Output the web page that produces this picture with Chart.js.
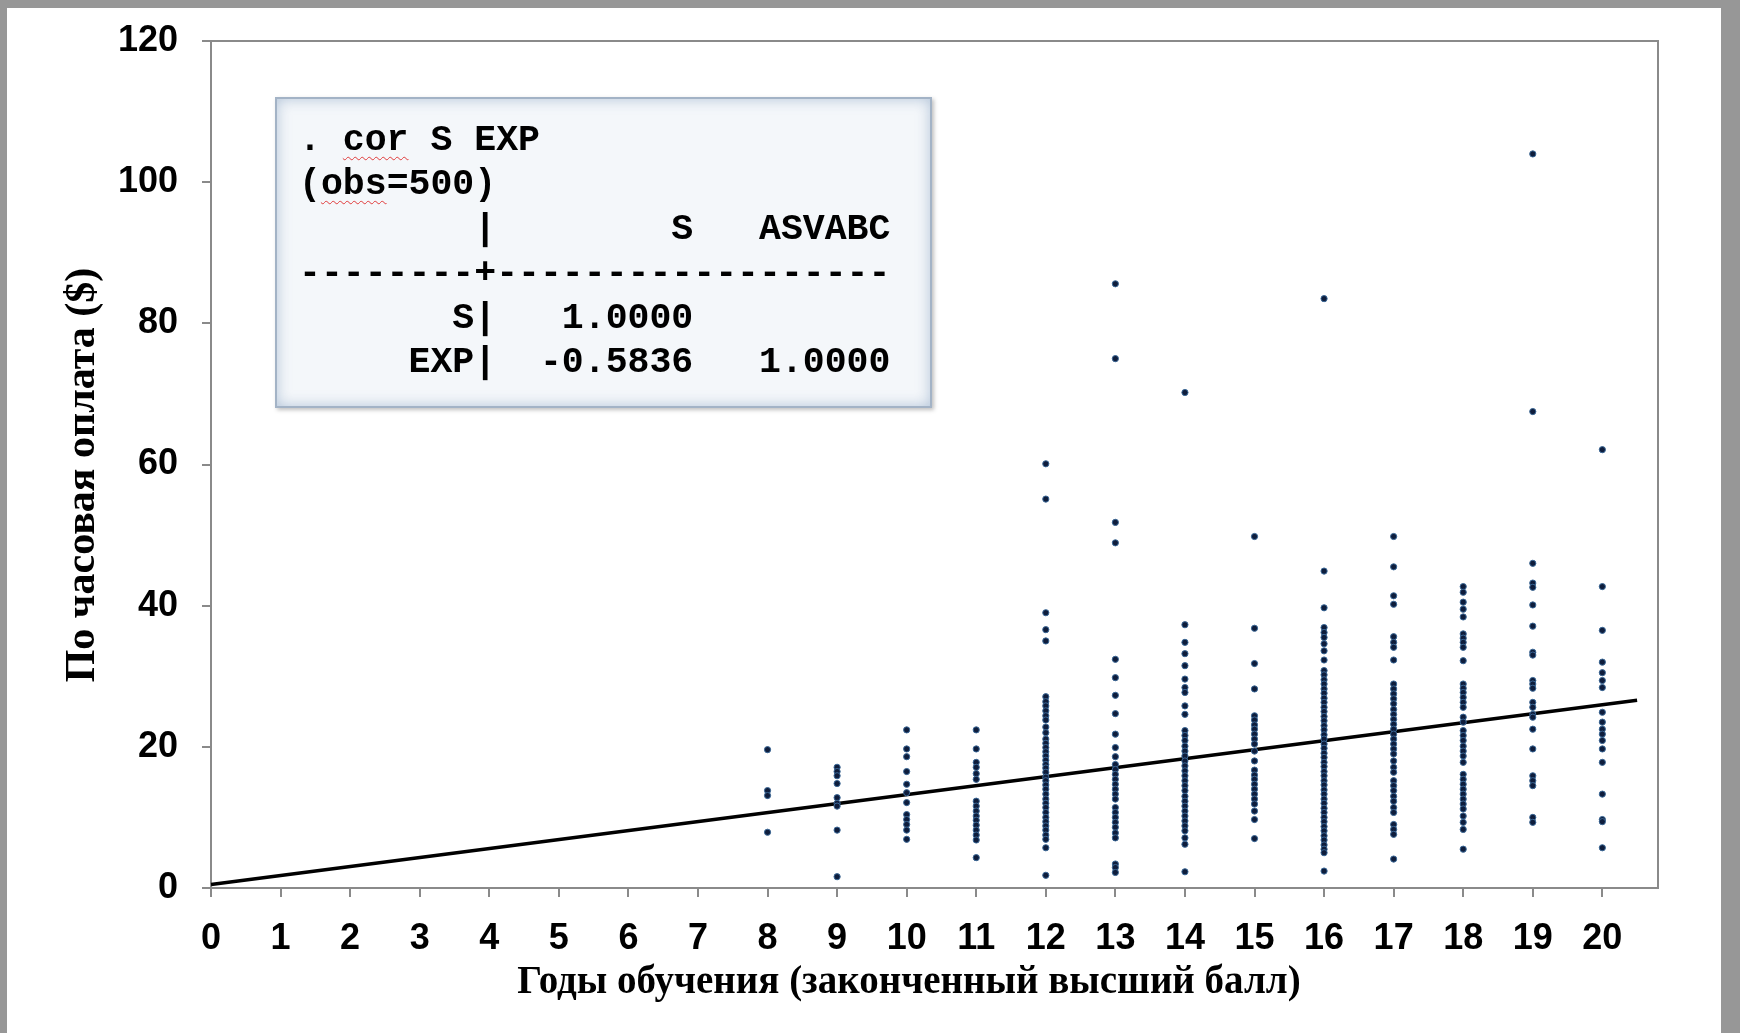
<!DOCTYPE html>
<html>
<head>
<meta charset="utf-8">
<script src="https://cdn.jsdelivr.net/npm/chart.js@4.4.1/dist/chart.umd.min.js"></script>
<style>
  html, body { margin: 0; padding: 0; }
  body { width: 1740px; height: 1033px; background: #979797; position: relative; overflow: hidden; }
  #frame { position: absolute; left: 7px; top: 8px; width: 1714px; height: 1025px; background: #fff; }
  #chart { position: absolute; left: 0; top: 0; }
  #statabox {
    position: absolute; left: 268px; top: 89px; width: 657px; height: 311px;
    box-sizing: border-box;
    background: #f4f7fa;
    border: 2px solid #a3b3c6;
    box-shadow: inset 0 0 14px rgba(125, 155, 190, 0.55), 2px 2px 4px rgba(0, 0, 0, 0.25);
  }
  #statabox pre {
    margin: 0; padding: 20px 0 0 22px;
    font: bold 36.5px 'Liberation Mono', 'Courier New', monospace;
    line-height: 44.4px; color: #000; white-space: pre;
  }
  .sp { text-decoration: underline wavy #e03a3a; text-decoration-thickness: 1px; text-underline-offset: 6px; }
</style>
</head>
<body>
<div id="frame">
  <canvas id="chart" width="1714" height="1025"></canvas>
  <div id="statabox"><pre>. <span class="sp">cor</span> S EXP
(<span class="sp">obs</span>=500)
        |        S   ASVABC
--------+------------------
       S|   1.0000
     EXP|  -0.5836   1.0000</pre></div>
</div>
<script>
// years of schooling (x) and hourly earnings, one list per column
const years = [8, 9, 10, 11, 12, 13, 14, 15, 16, 17, 18, 19, 20];
const wage8 = [19.6, 13.8, 13.1, 7.9];
const wage9 = [17.1, 16.5, 15.9, 14.8, 12.8, 12.0, 11.6, 8.2, 1.6];
const wage10 = [22.4, 19.7, 18.6, 16.5, 14.7, 13.5, 12.1, 10.4, 9.7, 9.0, 8.2, 6.9];
const wage11 = [22.4, 19.7, 17.8, 17.1, 16.2, 15.4, 12.3, 11.6, 10.9, 10.2, 9.6, 8.9, 8.2, 7.5, 6.8, 4.3];
const wage12 = [60.1, 55.1, 39.0, 36.6, 35.0, 27.1, 26.4, 25.8, 25.1, 24.4, 23.8, 22.8, 22.0, 21.1, 20.5,
  19.9, 19.3, 18.7, 18.1, 17.5, 17.0, 16.4, 15.7, 15.2, 14.6, 14.0, 13.3, 12.6, 12.0, 11.4, 10.7, 10.0,
  9.4, 8.8, 8.2, 7.5, 6.9, 5.7, 1.8];
const wage13 = [85.6, 75.0, 51.8, 48.9, 32.4, 29.8, 27.3, 24.7, 21.8, 19.9, 18.6, 17.5, 16.8, 16.1, 15.4,
  14.7, 14.0, 13.3, 12.6, 11.4, 10.7, 10.0, 9.3, 8.6, 7.8, 7.1, 3.4, 2.9, 2.2];
const wage14 = [70.2, 37.3, 34.8, 33.2, 31.5, 29.6, 28.4, 27.7, 25.8, 24.6, 22.3, 21.6, 20.9, 20.1, 19.4,
  18.7, 18.0, 17.3, 16.6, 15.9, 15.2, 14.5, 13.8, 13.0, 12.3, 11.6, 10.9, 10.2, 9.5, 8.8, 8.1, 7.1, 6.2, 2.3];
const wage15 = [49.8, 36.8, 31.8, 28.2, 24.4, 23.8, 23.1, 22.5, 21.8, 21.1, 20.4, 19.4, 18.0, 16.7, 16.0,
  15.4, 14.7, 14.0, 13.3, 12.6, 11.9, 10.9, 9.7, 7.0];
const wage16 = [83.5, 44.9, 39.7, 36.9, 36.2, 35.5, 34.6, 33.6, 32.3, 30.8, 30.2, 29.5, 28.9, 28.2, 27.6,
  26.9, 26.3, 25.6, 25.0, 24.3, 23.7, 23.0, 22.4, 21.7, 21.1, 20.4, 19.8, 19.1, 18.5, 17.8, 17.2, 16.5,
  15.9, 15.2, 14.6, 13.9, 13.3, 12.6, 12.0, 11.3, 10.7, 10.0, 9.4, 8.7, 8.1, 7.4, 6.8, 6.1, 5.5, 5.0, 2.4];
const wage17 = [49.8, 45.5, 41.4, 40.2, 35.6, 34.8, 34.1, 32.3, 28.9, 28.2, 27.5, 26.8, 26.1, 25.3, 24.6,
  23.9, 23.2, 22.5, 21.8, 21.1, 20.4, 19.7, 19.0, 18.0, 17.1, 16.4, 15.2, 14.5, 13.8, 13.0, 12.3, 11.4,
  10.7, 9.0, 8.3, 7.6, 4.1];
const wage18 = [42.7, 41.9, 40.5, 39.5, 38.4, 36.0, 35.4, 34.8, 34.1, 32.2, 28.9, 28.3, 27.7, 27.0, 26.3,
  25.6, 24.2, 23.5, 22.3, 21.6, 20.9, 20.1, 19.4, 18.7, 17.8, 16.1, 15.4, 14.7, 14.0, 13.3, 12.6, 11.9,
  11.2, 10.2, 9.3, 8.3, 5.5];
const wage19 = [104.0, 67.5, 46.0, 43.2, 42.6, 40.1, 37.1, 33.4, 33.0, 29.4, 28.9, 28.3, 26.3, 25.6, 24.6,
  24.2, 22.5, 19.7, 15.9, 15.2, 14.5, 10.0, 9.3];
const wage20 = [62.1, 42.7, 36.5, 32.0, 30.5, 29.4, 28.4, 24.9, 23.5, 22.5, 21.8, 20.9, 19.7, 17.8, 13.3,
  9.7, 9.4, 5.7];
const wages = [wage8, wage9, wage10, wage11, wage12, wage13, wage14, wage15, wage16, wage17, wage18, wage19, wage20];

// fitted line end points
const fitX = [0, 20.5];
const fitY = [0.5, 26.6];

const xTickValues = [0, 1, 2, 3, 4, 5, 6, 7, 8, 9, 10, 11, 12, 13, 14, 15, 16, 17, 18, 19, 20];
const yTickValues = [0, 20, 40, 60, 80, 100, 120];

const xTitle = "Годы обучения (законченный высший балл)";
const yTitle = "По часовая оплата ($)";

const points = [];
years.forEach((s, i) => {
  wages[i].forEach((w) => points.push({ x: s, y: w }));
});

const tickFont = { family: "'Liberation Sans', Arial, sans-serif", size: 36, weight: "bold" };
const titleFamily = "'Liberation Serif', 'Times New Roman', serif";
const axisGray = "#8a8a8a";

// grey box round the plot area, plus both axis titles (placed as in the original, not centred)
const plotFrame = {
  id: "plotFrame",
  beforeDatasetsDraw(chart) {
    const { ctx, chartArea } = chart;
    ctx.save();
    ctx.strokeStyle = axisGray;
    ctx.lineWidth = 2;
    ctx.strokeRect(chartArea.left, chartArea.top, chartArea.right - chartArea.left, chartArea.bottom - chartArea.top);
    ctx.restore();
  },
  afterDraw(chart) {
    const ctx = chart.ctx;
    ctx.save();
    ctx.fillStyle = "#000";
    ctx.textAlign = "center";
    ctx.textBaseline = "middle";
    ctx.font = "bold 39px " + titleFamily;
    ctx.fillText(xTitle, 902, 975);
    ctx.translate(76, 467);
    ctx.rotate(-Math.PI / 2);
    ctx.font = "bold 42px " + titleFamily;
    ctx.fillText(yTitle, 0, 0);
    ctx.restore();
  },
};

new Chart(document.getElementById("chart"), {
  type: "scatter",
  data: {
    datasets: [
      {
        label: "EARNINGS",
        data: points,
        pointRadius: 3.1,
        pointBackgroundColor: "#0e1d3c",
        pointBorderColor: "#3a6796",
        pointBorderWidth: 1,
      },
      {
        type: "line",
        label: "fit",
        data: fitX.map((x, i) => ({ x: x, y: fitY[i] })),
        borderColor: "#000",
        borderWidth: 3.5,
        pointRadius: 0,
        fill: false,
        clip: false,
      },
    ],
  },
  options: {
    responsive: false,
    animation: false,
    layout: { padding: { top: 33, right: 63, left: 0, bottom: 0 } },
    plugins: { legend: { display: false }, tooltip: { enabled: false } },
    scales: {
      x: {
        type: "linear",
        min: 0,
        max: 20.8,
        afterBuildTicks: (s) => { s.ticks = xTickValues.map((v) => ({ value: v })); },
        afterFit: (s) => { s.height = 145; },
        grid: { display: true, drawOnChartArea: false, drawTicks: true, tickLength: 9, color: axisGray, lineWidth: 2 },
        border: { display: true, color: axisGray, width: 2 },
        ticks: { color: "#000", font: tickFont, padding: 20, maxRotation: 0, autoSkip: false },
      },
      y: {
        type: "linear",
        min: 0,
        max: 120,
        afterBuildTicks: (s) => { s.ticks = yTickValues.map((v) => ({ value: v })); },
        afterFit: (s) => { s.width = 204; s.paddingTop = 0; s.paddingBottom = 0; },
        grid: { display: true, drawOnChartArea: false, drawTicks: true, tickLength: 9, color: axisGray, lineWidth: 2 },
        border: { display: true, color: axisGray, width: 2 },
        ticks: { color: "#000", font: tickFont, padding: 24 },
      },
    },
  },
  plugins: [plotFrame],
});
</script>
</body>
</html>
